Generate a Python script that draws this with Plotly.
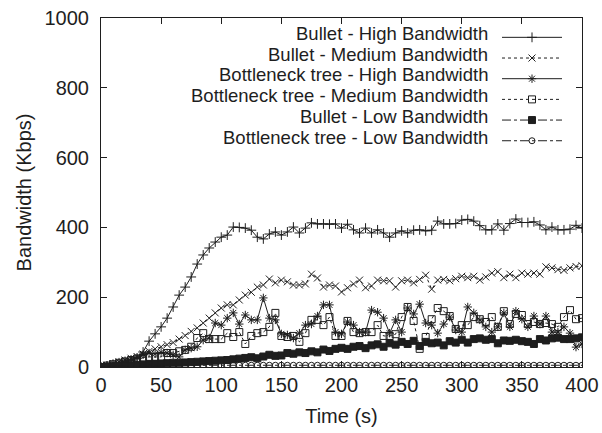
import plotly.graph_objects as go

time_s = list(range(0, 401, 5))

bullet_high = [0, 2, 5, 8, 12, 18, 25, 43, 74, 95, 115, 140, 172, 206, 229, 258, 295, 321, 341, 358,
               372, 378, 401, 400, 398, 392, 372, 367, 381, 387, 378, 387, 401, 384, 398, 413, 410, 410, 409, 410,
               398, 409, 393, 384, 398, 384, 393, 384, 372, 384, 390, 384, 392, 393, 390, 392, 418, 410, 410, 411,
               421, 423, 418, 405, 393, 393, 410, 392, 411, 424, 414, 414, 416, 407, 393, 401, 393, 393, 395, 406, 398]

bullet_medium = [0, 5, 10, 15, 20, 25, 30, 37, 45, 52, 58, 64, 70, 80, 90, 102, 112, 126, 140, 155,
                 169, 178, 178, 192, 206, 214, 229, 235, 252, 241, 249, 244, 235, 235, 238, 266, 255, 229, 235, 232,
                 215, 227, 238, 249, 227, 232, 249, 247, 247, 229, 247, 249, 241, 251, 263, 223, 249, 251, 247, 253,
                 260, 256, 260, 249, 258, 269, 273, 256, 266, 256, 269, 266, 269, 266, 287, 284, 279, 277, 284, 288, 290]

bt_high = [0, 5, 10, 14, 18, 22, 27, 35, 40, 38, 42, 40, 35, 29, 49, 54, 58, 77, 83, 126,
           120, 140, 155, 123, 149, 135, 135, 198, 140, 135, 95, 92, 83, 97, 120, 123, 146, 178, 178, 100,
           95, 129, 120, 100, 100, 163, 157, 140, 97, 135, 100, 169, 152, 180, 126, 120, 97, 123, 143, 106,
           100, 172, 155, 135, 115, 100, 115, 155, 115, 160, 137, 115, 146, 123, 146, 100, 100, 115, 97, 57, 66]

bt_medium = [0, 4, 8, 12, 16, 20, 24, 27, 29, 29, 29, 40, 40, 45, 49, 58, 83, 97, 80, 80,
             80, 97, 86, 100, 66, 89, 97, 100, 115, 155, 89, 86, 89, 72, 97, 135, 135, 120, 143, 89,
             89, 132, 100, 97, 100, 100, 120, 89, 89, 94, 143, 172, 132, 52, 86, 137, 169, 160, 146, 109,
             120, 120, 143, 137, 129, 143, 115, 160, 123, 152, 149, 123, 129, 123, 126, 123, 115, 143, 163, 137, 140]

bullet_low = [0, 1, 2, 3, 4, 5, 6, 7, 8, 9, 10, 11, 12, 12, 13, 14, 15, 16, 17, 18,
              19, 20, 22, 24, 26, 28, 25, 30, 35, 32, 33, 40, 38, 42, 40, 45, 42, 50, 46, 52,
              55, 52, 58, 60, 54, 62, 65, 58, 68, 64, 72, 66, 75, 60, 72, 68, 70, 62, 74, 70,
              78, 70, 80, 82, 78, 80, 68, 76, 75, 78, 74, 72, 66, 80, 76, 82, 84, 80, 80, 82, 85]

bt_low = [0, 2, 3, 4, 4, 5, 5, 5, 5, 5, 5, 5, 5, 5, 5, 5, 5, 5, 5, 5,
          5, 5, 5, 5, 5, 5, 5, 5, 5, 5, 5, 5, 5, 5, 5, 5, 5, 5, 5, 5,
          5, 5, 5, 5, 5, 5, 5, 5, 5, 5, 5, 5, 5, 5, 5, 5, 5, 5, 5, 5,
          5, 5, 5, 5, 5, 5, 5, 5, 5, 5, 5, 5, 5, 5, 5, 5, 5, 5, 5, 5, 5]

series_names = ["Bullet - High Bandwidth", "Bullet - Medium Bandwidth",
                "Bottleneck tree - High Bandwidth", "Bottleneck tree - Medium Bandwidth",
                "Bullet - Low Bandwidth", "Bottleneck tree - Low Bandwidth"]
series_values = [bullet_high, bullet_medium, bt_high, bt_medium, bullet_low, bt_low]

styles = [
    dict(dash="solid", symbol="cross-thin-open", size=7),
    dict(dash="dot", symbol="x-thin-open", size=7),
    dict(dash="solid", symbol="asterisk-open", size=7),
    dict(dash="dot", symbol="square-open", size=7),
    dict(dash="dashdot", symbol="square", size=7),
    dict(dash="dashdot", symbol="circle-open", size=6),
]

INK = "#1e1e1e"
FONT = "Liberation Sans, Arial, sans-serif"

fig = go.Figure()
for name, vals, st in zip(series_names, series_values, styles):
    fig.add_trace(go.Scatter(
        x=time_s, y=vals, mode="lines+markers", name=" ",
        line=dict(color=INK, width=1, dash=st["dash"]),
        marker=dict(symbol=st["symbol"], size=st["size"], color=INK,
                    line=dict(color=INK, width=1)),
        showlegend=True,
    ))

# legend texts (right-aligned, symbol sample to the right as in the original)
row0 = 33.5
row_step = 20.7
for i, name in enumerate(series_names):
    fig.add_annotation(
        text=name, xref="paper", yref="paper",
        x=(490 - 101) / 481, y=1 - (row0 + i * row_step - 18) / 349,
        xanchor="right", yanchor="middle", showarrow=False,
        font=dict(family=FONT, size=18.5, color=INK),
    )

fig.update_layout(
    width=602, height=433,
    margin=dict(l=101, r=20, t=18, b=66, autoexpand=False),
    paper_bgcolor="white", plot_bgcolor="white",
    font=dict(family=FONT, size=20, color=INK),
    showlegend=True,
    legend=dict(x=(497 - 101) / 481, y=1 - (22 - 18) / 349, xanchor="left", yanchor="top",
                bgcolor="rgba(0,0,0,0)", itemwidth=60, font=dict(size=13.6),
                tracegroupgap=0, itemclick=False),
    xaxis=dict(range=[0, 400], dtick=50, tick0=0, ticks="inside", ticklen=6,
               tickcolor=INK, showline=True, linecolor=INK, linewidth=1, mirror="ticks",
               showgrid=False, zeroline=False, ticklabelstandoff=0,
               title=dict(text="Time (s)", standoff=13, font=dict(size=20))),
    yaxis=dict(range=[0, 1000], dtick=200, tick0=0, ticks="inside", ticklen=6,
               tickcolor=INK, showline=True, linecolor=INK, linewidth=1, mirror="ticks",
               showgrid=False, zeroline=False, ticklabelstandoff=7,
               title=dict(text="Bandwidth (Kbps)", standoff=7, font=dict(size=20))),
)

fig.write_html("out.html")
